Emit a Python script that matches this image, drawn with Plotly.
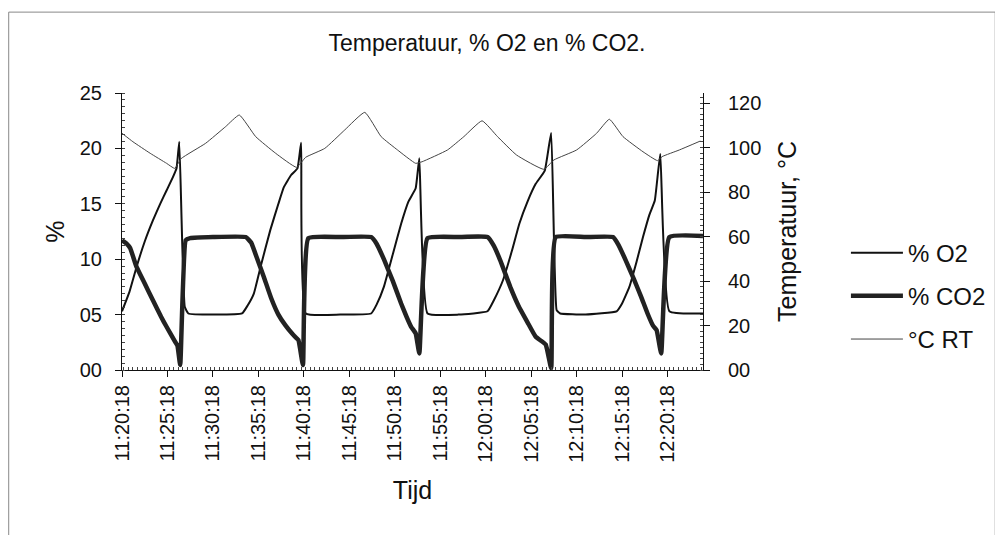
import pandas as pd
import plotly.graph_objects as go

# ---- data (time offsets in minutes from 11:20:18) ----
start_time = "2000-01-01 11:20:18"

o2_t = [0.0, 0.8, 1.6, 2.5, 3.4, 4.2, 4.9, 5.6, 6.0, 6.3, 6.9, 7.3, 10.0, 13.2, 13.8, 14.5,
        15.3, 16.3, 17.2, 17.8, 18.6, 19.3, 19.7, 20.2, 24.0, 27.4, 28.0, 28.8, 29.8, 30.7,
        31.5, 32.3, 32.7, 33.6, 37.0, 40.2, 40.9, 41.9, 42.9, 43.7, 44.6, 45.5, 46.5, 47.2,
        47.8, 48.2, 51.0, 54.4, 55.0, 55.8, 56.6, 57.3, 58.0, 58.6, 59.2, 60.2, 63.9]
o2_v = [5.3, 7.0, 9.3, 11.6, 13.5, 15.0, 16.2, 17.4, 18.2, 20.6, 5.7, 5.1, 5.0, 5.1, 5.8, 6.9,
        9.5, 12.6, 15.0, 16.5, 17.6, 18.2, 20.5, 5.1, 5.0, 5.1, 5.9, 7.5, 10.5, 13.2,
        15.2, 16.4, 19.1, 5.1, 5.0, 5.3, 6.3, 8.1, 10.8, 13.2, 15.2, 16.8, 18.0, 21.4,
        5.4, 5.1, 5.0, 5.3, 6.0, 7.5, 9.8, 12.0, 14.0, 15.3, 19.5, 5.3, 5.1]

co2_t = [0.0, 0.5, 0.9, 1.6, 2.5, 3.4, 4.3, 4.9, 5.8, 6.1, 6.4, 7.0, 7.5, 10.0, 13.6, 14.2,
         14.8, 15.6, 16.4, 17.2, 18.0, 18.8, 19.4, 19.9, 20.5, 24.0, 27.4, 28.0, 28.8, 29.8,
         30.7, 31.3, 31.8, 32.3, 32.7, 33.6, 37.0, 40.2, 40.9, 41.6, 42.7, 43.6, 44.6, 45.5,
         46.6, 47.2, 47.7, 51.0, 54.0, 54.6, 55.4, 56.3, 57.1, 57.8, 58.4, 58.8, 59.3, 60.2, 63.9]
co2_v = [11.7, 11.4, 11.0, 9.3, 7.8, 6.3, 4.8, 3.9, 2.6, 2.2, 0.45, 11.7, 11.9, 12.0, 12.0, 11.5,
         10.2, 8.4, 6.5, 5.0, 4.0, 3.2, 2.7, 0.45, 11.9, 12.0, 12.0, 11.4, 10.0, 8.0,
         6.0, 4.8, 3.9, 3.3, 1.5, 11.9, 12.0, 12.0, 11.2, 9.9, 7.5, 5.8, 4.3, 3.0,
         2.3, 0.15, 12.0, 12.0, 12.0, 11.3, 9.9, 8.2, 6.6, 5.1, 4.0, 3.6, 1.5, 12.0, 12.1]

rt_t = [0.0, 1.2, 3.1, 4.9, 5.8, 6.5, 9.2, 11.4, 12.9, 14.7, 16.9, 19.2, 20.2, 22.3, 24.5,
        26.7, 28.5, 30.3, 32.3, 33.0, 35.8, 37.6, 39.6, 41.3, 43.4, 46.4, 47.5, 50.0, 52.2,
        53.6, 55.1, 57.3, 58.9, 59.4, 61.3, 63.6]
rt_v = [106.4, 102.6, 97.4, 92.9, 90.6, 95.0, 101.9, 109.4, 114.6, 104.9, 97.4, 91.1, 95.6, 99.6, 107.9,
        115.8, 104.9, 98.9, 92.9, 93.6, 98.9, 104.9, 112.0, 104.9, 96.6, 90.2, 94.4, 98.9, 106.4,
        112.7, 104.9, 98.1, 94.1, 95.9, 98.9, 102.9]

x_end_min = 63.9

base = pd.Timestamp(start_time)
def to_time(mins):
    return [base + pd.Timedelta(minutes=m) for m in mins]

FONT = "Arial, Liberation Sans, sans-serif"
W, H = 995, 527   # page body has an 8px margin

fig = go.Figure()
fig.add_trace(go.Scatter(x=to_time(o2_t), y=o2_v, name="% O2", mode="lines",
                         line=dict(color="#111111", width=2, shape="spline", smoothing=0.35),
                         legendgroup="a"))
fig.add_trace(go.Scatter(x=to_time(co2_t), y=co2_v, name="% CO2", mode="lines",
                         line=dict(color="#222222", width=4.5, shape="spline", smoothing=0.35),
                         legendgroup="b"))
fig.add_trace(go.Scatter(x=to_time(rt_t), y=rt_v, name="°C RT", mode="lines", yaxis="y2",
                         line=dict(color="#444444", width=1, shape="spline", smoothing=0.4),
                         legendgroup="c"))

fig.update_layout(
    width=W, height=H,
    margin=dict(l=114, r=297, t=85, b=165),
    paper_bgcolor="white", plot_bgcolor="white",
    font=dict(family=FONT, size=20, color="#111111"),
    title=dict(text="Temperatuur, % O2 en % CO2.", x=(487 - 8) / W, xref="container", xanchor="center",
               y=1 - 35 / H, yref="container", yanchor="middle",
               font=dict(size=23, family=FONT)),
    xaxis=dict(
        type="date",
        range=[base, base + pd.Timedelta(minutes=x_end_min)],
        tick0=base, dtick=300000, tickformat="%H:%M:%S", tickangle=-90,
        showgrid=False, zeroline=False, showline=True, linecolor="#111111", linewidth=1,
        ticks="outside", ticklen=6, tickcolor="#111111",
        minor=dict(dtick=30000, ticks="inside", ticklen=3, tickcolor="#444444", showgrid=False),
        tickfont=dict(size=20),
        title=dict(text="Tijd", font=dict(size=25), standoff=19),
    ),
    yaxis=dict(
        range=[0, 25], dtick=5, tickformat="02d",
        showgrid=False, zeroline=False, showline=True, linecolor="#111111", linewidth=1,
        ticks="outside", ticklen=6, tickcolor="#111111", ticklabelstandoff=9,
        minor=dict(dtick=0.625, ticks="inside", ticklen=3, tickcolor="#444444", showgrid=False),
        tickfont=dict(size=20),
        title=dict(text="%", font=dict(size=25), standoff=8),
    ),
    yaxis2=dict(
        overlaying="y", side="right", range=[0, 124.5], dtick=20, tickformat="02d",
        showgrid=False, zeroline=False, showline=True, linecolor="#111111", linewidth=1,
        ticks="outside", ticklen=6, tickcolor="#111111", ticklabelstandoff=14,
        minor=dict(dtick=2.5, ticks="inside", ticklen=3, tickcolor="#444444", showgrid=False),
        tickfont=dict(size=20),
        title=dict(text="Temperatuur, °C", font=dict(size=25), standoff=18),
    ),
    legend=dict(x=1.246, xanchor="left", y=0.267, yanchor="middle", itemwidth=52,
                font=dict(size=24, family=FONT), traceorder="grouped", tracegroupgap=9,
                bgcolor="rgba(0,0,0,0)"),
    shapes=[dict(type="rect", xref="paper", yref="paper",
                 x0=-0.195, x1=1.503, y0=-0.62, y1=1.292,
                 line=dict(color="#888888", width=1), fillcolor="rgba(0,0,0,0)", layer="below")],
)

fig.write_html("out.html")
